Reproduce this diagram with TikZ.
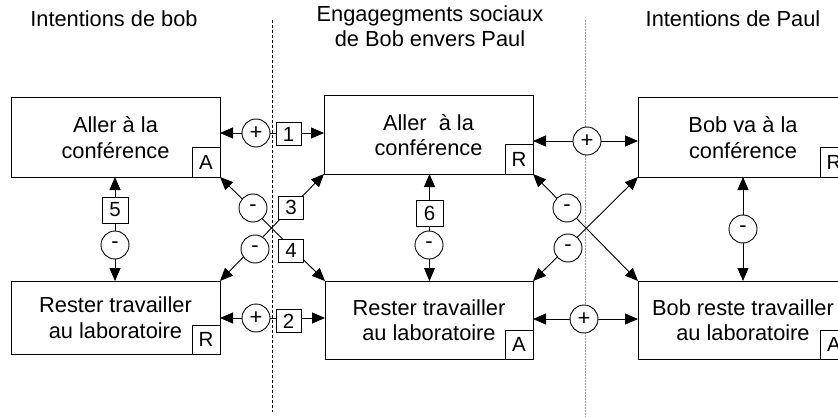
\documentclass[tikz,border=0pt]{standalone}
\usepackage{fontspec}
\setmainfont{Liberation Sans}
\usetikzlibrary{arrows.meta,backgrounds}
\tikzset{
  bigbox/.style={draw, line width=1pt, align=center, inner sep=0pt, outer sep=0pt,
    font=\fontsize{21.8}{25.5}\selectfont},
  tag/.style={draw, line width=1pt, fill=white, minimum width=28pt, minimum height=29pt,
    inner sep=0pt, outer sep=0pt, font=\fontsize{20.5}{20.5}\selectfont},
  num/.style={draw, line width=0.9pt, fill=white, minimum width=25pt, minimum height=23pt,
    inner sep=0pt, font=\fontsize{20.5}{20.5}\selectfont},
  sign/.style={circle, draw, line width=0.9pt, fill=white, minimum size=28pt, inner sep=0pt,
    font=\fontsize{22}{22}\selectfont},
  link/.style={line width=0.9pt, {Triangle[length=13pt,width=11pt]}-{Triangle[length=13pt,width=11pt]}},
  head/.style={font=\fontsize{21.8}{23}\selectfont, anchor=base, inner sep=0pt},
  sepline/.style={line width=0.8pt, dash pattern=on 3pt off 2pt},
  sepgray/.style={line width=0.9pt, gray!75, dash pattern=on 2pt off 1pt}
}
\begin{document}
\begin{tikzpicture}[x=1pt, y=-1pt]
\useasboundingbox (0,0) rectangle (838,417);
\clip (0,0) rectangle (838,417);

% column headings
\node[head] (h1) at (114,27) {Intentions de bob};
\node[head] (h2a) at (430,22) {Engagegments sociaux};
\node[head] (h2b) at (430,47) {de Bob envers Paul};
\node[head] (h3) at (733,27) {Intentions de Paul};

% main boxes
\node[bigbox, minimum width=209pt, minimum height=79pt] (lt) at (115.5,137.5) {Aller à la\\conférence};
\node[bigbox, minimum width=209pt, minimum height=78pt] (mt) at (428.5,135) {Aller\ \ à la\\conférence};
\node[bigbox, minimum width=210pt, minimum height=79pt] (rt) at (743,137.5) {Bob va à la\\conférence};
\node[bigbox, minimum width=209pt, minimum height=73pt] (lb) at (115.5,317.5) {Rester travailler\\au laboratoire};
\node[bigbox, minimum width=208pt, minimum height=78pt] (mb) at (429,320) {Rester travailler\\au laboratoire};
\node[bigbox, minimum width=210pt, minimum height=78pt] (rb) at (743,320) {Bob reste travailler\\au laboratoire};

% status tags
\node[tag, anchor=south east] (ltA) at (lt.south east) {A};
\node[tag, anchor=south east] (mtR) at (mt.south east) {R};
\node[tag, anchor=south east] (rtR) at (rt.south east) {R};
\node[tag, anchor=south east] (lbR) at (lb.south east) {R};
\node[tag, anchor=south east] (mbA) at (mb.south east) {A};
\node[tag, anchor=south east] (rbA) at (rb.south east) {A};

% signs and numbers on the links
\node[sign] (s1) at (256,133) {+};
\node[num] (n1) at (288.5,134) {1};
\node[sign] (s2) at (256,318) {+};
\node[num] (n2) at (288.5,321) {2};
\node[sign] (s3) at (253,208) {-};
\node[num] (n3) at (291,207.5) {3};
\node[sign] (s4) at (255,249) {-};
\node[num] (n4) at (291,250.5) {4};
\node[num, minimum width=26pt, minimum height=26pt] (n5) at (115,210) {5};
\node[sign] (s5) at (115,245) {-};
\node[num, minimum width=27pt, minimum height=26pt] (n6) at (429.5,213) {6};
\node[sign] (s6) at (429,245) {-};
\node[sign] (s7) at (587,141) {+};
\node[sign] (s8) at (584,319) {+};
\node[sign] (s9) at (567,208) {-};
\node[sign] (s10) at (568,248) {-};
\node[sign] (s11) at (743,229) {-};

\begin{scope}[on background layer]
  % column separators
  \draw[sepline] (272,20) -- (272,412);
  \draw[sepgray] (585,20) -- (585,417);
  % horizontal links
  \draw[link] (lt.east |- s1) -- (mt.west |- s1);
  \draw[link] (lb.east |- s2) -- (mb.west |- s2);
  \draw[link] (mt.east |- s7) -- (rt.west |- s7);
  \draw[link] (mb.east |- s8) -- (rb.west |- s8);
  % crossed links
  \draw[link] (lt.south east) -- (mb.north west);
  \draw[link] (lb.north east) -- (mt.south west);
  \draw[link] (mt.south east) -- (rb.north west);
  \draw[link] (mb.north east) -- (rt.south west);
  % vertical links
  \draw[link] (lt.south -| n5) -- (lb.north -| n5);
  \draw[link] (mt.south -| n6) -- (mb.north -| n6);
  \draw[link] (rt.south -| s11) -- (rb.north -| s11);
\end{scope}
\end{tikzpicture}
\end{document}
